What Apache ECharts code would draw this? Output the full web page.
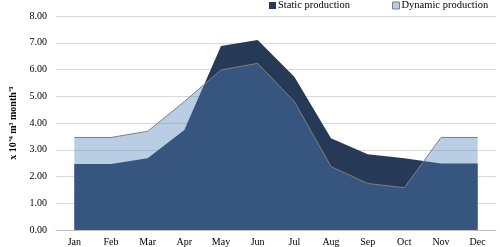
<!DOCTYPE html>
<html>
<head>
<meta charset="utf-8">
<script src="https://cdn.jsdelivr.net/npm/echarts@6/dist/echarts.min.js"></script>
<style>html,body{margin:0;padding:0;background:#fff;}#c{width:500px;height:247px;}</style>
</head>
<body>
<div id="c"></div>
<script>
const months = ['Jan','Feb','Mar','Apr','May','Jun','Jul','Aug','Sep','Oct','Nov','Dec'];
const staticProduction = [2.47, 2.47, 2.68, 3.74, 6.88, 7.10, 5.73, 3.43, 2.83, 2.68, 2.49, 2.49];
const dynamicProduction = [3.46, 3.46, 3.69, 4.80, 5.98, 6.23, 4.80, 2.37, 1.74, 1.58, 3.46, 3.46];
const yTicks = {min: 0, max: 8, interval: 1};

const navy = 'rgb(38,57,86)';
const dynFill = 'rgba(79,129,189,0.4)';
const font = '"Liberation Serif", "Times New Roman", serif';

const chart = echarts.init(document.getElementById('c'), null, {renderer: 'canvas'});
chart.setOption({
  animation: false,
  textStyle: {fontFamily: font},
  grid: {left: 52, right: 4, top: 16, bottom: 17, containLabel: false},
  legend: {
    orient: 'horizontal',
    top: 0, left: 269, width: 231, padding: [0, 0, 0, 0],
    itemWidth: 7, itemHeight: 7, itemGap: 42,
    textStyle: {fontFamily: font, fontSize: 10.5, color: '#000', padding: [0,0,0,-3]},
    data: [
      {name: 'Static production', icon: 'rect', itemStyle: {color: navy, borderWidth: 0}},
      {name: 'Dynamic production', icon: 'rect', itemStyle: {color: 'rgb(185,205,229)', borderColor: '#7f7f7f', borderWidth: 1}}
    ]
  },
  xAxis: {
    type: 'category', data: months, boundaryGap: true,
    axisLine: {lineStyle: {color: '#bfbfbf'}},
    axisTick: {show: false},
    axisLabel: {color: '#000', fontFamily: font, fontSize: 10, margin: 7}
  },
  yAxis: {
    type: 'value', min: yTicks.min, max: yTicks.max, interval: yTicks.interval,
    name: 'x 10⁻⁴ m³ month⁻¹', nameLocation: 'middle', nameGap: 38,
    nameTextStyle: {fontFamily: font, fontSize: 10, fontWeight: 'bold', color: '#000'},
    axisLine: {show: false}, axisTick: {show: false},
    axisLabel: {color: '#000', fontFamily: font, fontSize: 10, margin: 9,
      formatter: v => v.toFixed(2)},
    splitLine: {lineStyle: {color: '#d9d9d9'}}
  },
  series: [
    {
      name: 'Static production', type: 'line', data: staticProduction,
      showSymbol: false, z: 2,
      lineStyle: {width: 0, color: navy},
      itemStyle: {color: navy},
      areaStyle: {color: navy, opacity: 1}
    },
    {
      name: 'Dynamic production', type: 'line', data: dynamicProduction,
      showSymbol: false, z: 3,
      lineStyle: {width: 1, color: '#7f7f7f'},
      itemStyle: {color: 'rgb(185,205,229)'},
      areaStyle: {color: dynFill, opacity: 1}
    }
  ]
});
</script>
</body>
</html>
